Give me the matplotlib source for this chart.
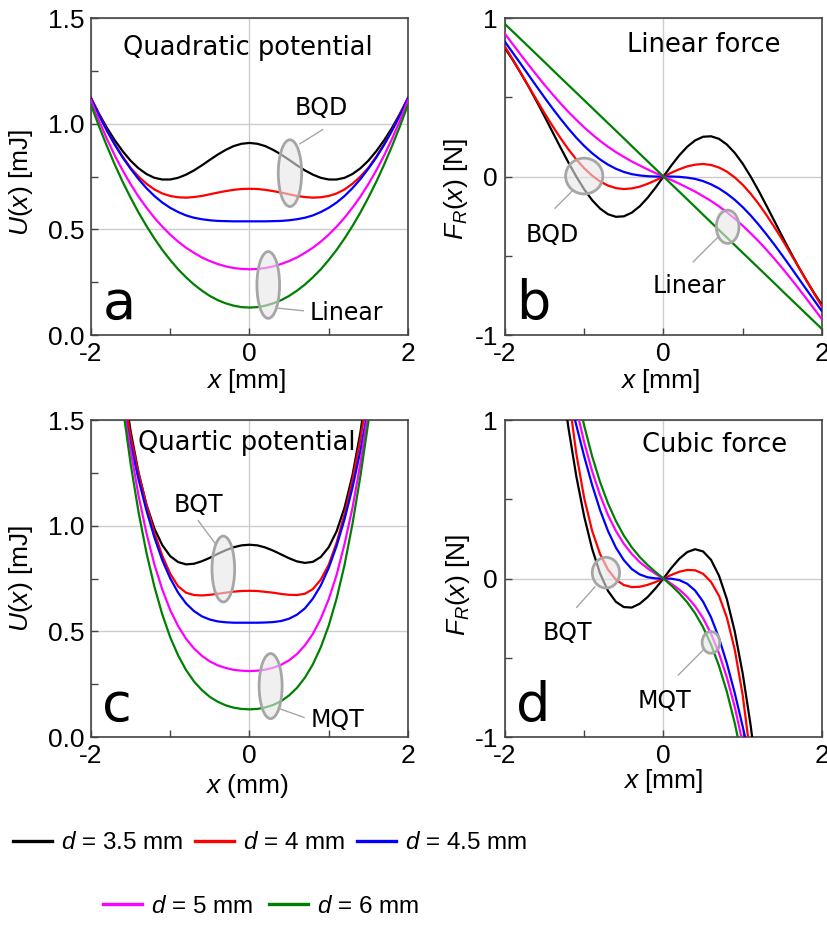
import matplotlib
matplotlib.use('Agg')
import matplotlib.pyplot as plt
from matplotlib.patches import Ellipse
from matplotlib.lines import Line2D

plt.rcParams['font.family'] = ['Liberation Sans', 'DejaVu Sans']
plt.rcParams['mathtext.fontset'] = 'custom'
plt.rcParams['mathtext.it'] = 'Liberation Sans:italic'
plt.rcParams['mathtext.rm'] = 'Liberation Sans'
plt.rcParams['axes.unicode_minus'] = False

gaps = ['3.5', '4', '4.5', '5', '6']
colors = ['black', '#ff0000', '#0000ff', '#ff00ff', '#008000']

# panels a, b: x in mm
x_ab = [-2.0, -1.9, -1.8, -1.7, -1.6, -1.5, -1.4, -1.3, -1.2, -1.1, -1.0,
        -0.9, -0.8, -0.7, -0.6, -0.5, -0.4, -0.3, -0.2, -0.1, 0.0,
        0.1, 0.2, 0.3, 0.4, 0.5, 0.6, 0.7, 0.8, 0.9, 1.0,
        1.1, 1.2, 1.3, 1.4, 1.5, 1.6, 1.7, 1.8, 1.9, 2.0]

# quadratic potential U(x) [mJ]
u_quad_35 = [1.122, 1.048, 0.981, 0.922, 0.870, 0.825, 0.789, 0.762, 0.744, 0.736, 0.736,
             0.744, 0.759, 0.779, 0.803, 0.829, 0.854, 0.876, 0.894, 0.905, 0.909,
             0.905, 0.894, 0.876, 0.854, 0.829, 0.803, 0.779, 0.759, 0.744, 0.736,
             0.736, 0.744, 0.762, 0.789, 0.825, 0.870, 0.922, 0.981, 1.048, 1.122]
u_quad_4 = [1.120, 1.044, 0.970, 0.903, 0.844, 0.791, 0.750, 0.716, 0.689, 0.670, 0.658,
            0.652, 0.650, 0.653, 0.658, 0.666, 0.674, 0.681, 0.687, 0.691, 0.692,
            0.691, 0.687, 0.681, 0.674, 0.666, 0.658, 0.653, 0.650, 0.652, 0.658,
            0.670, 0.689, 0.716, 0.750, 0.791, 0.844, 0.903, 0.970, 1.044, 1.120]
u_quad_45 = [1.118, 1.041, 0.968, 0.901, 0.840, 0.787, 0.738, 0.695, 0.658, 0.627, 0.602,
             0.582, 0.566, 0.555, 0.548, 0.543, 0.540, 0.539, 0.538, 0.538, 0.538,
             0.538, 0.538, 0.539, 0.540, 0.543, 0.548, 0.555, 0.566, 0.582, 0.602,
             0.627, 0.658, 0.695, 0.738, 0.787, 0.840, 0.901, 0.968, 1.041, 1.118]
u_quad_5 = [1.110, 1.016, 0.929, 0.850, 0.779, 0.714, 0.655, 0.603, 0.555, 0.513, 0.475,
            0.442, 0.413, 0.389, 0.367, 0.350, 0.336, 0.325, 0.317, 0.313, 0.311,
            0.313, 0.317, 0.325, 0.336, 0.350, 0.367, 0.389, 0.413, 0.442, 0.475,
            0.513, 0.555, 0.603, 0.655, 0.714, 0.779, 0.850, 0.929, 1.016, 1.110]
u_quad_6 = [1.090, 0.989, 0.895, 0.807, 0.725, 0.650, 0.580, 0.516, 0.457, 0.403, 0.355,
            0.311, 0.273, 0.239, 0.210, 0.185, 0.165, 0.150, 0.139, 0.132, 0.130,
            0.132, 0.139, 0.150, 0.165, 0.185, 0.210, 0.239, 0.273, 0.311, 0.355,
            0.403, 0.457, 0.516, 0.580, 0.650, 0.725, 0.807, 0.895, 0.989, 1.090]

# linear force F_R(x) [N]
f_lin_35 = [0.810, 0.734, 0.652, 0.566, 0.474, 0.379, 0.281, 0.184, 0.089, 0.000, -0.081,
            -0.149, -0.202, -0.238, -0.254, -0.251, -0.228, -0.188, -0.134, -0.070, 0.0,
            0.070, 0.134, 0.188, 0.228, 0.251, 0.254, 0.238, 0.202, 0.149, 0.081,
            0.000, -0.089, -0.184, -0.281, -0.379, -0.474, -0.566, -0.652, -0.734, -0.810]
f_lin_4 = [0.820, 0.737, 0.653, 0.567, 0.483, 0.399, 0.319, 0.243, 0.172, 0.108, 0.052,
           0.006, -0.031, -0.057, -0.073, -0.079, -0.075, -0.064, -0.046, -0.024, 0.0,
           0.024, 0.046, 0.064, 0.075, 0.079, 0.073, 0.057, 0.031, -0.006, -0.052,
           -0.108, -0.172, -0.243, -0.319, -0.399, -0.483, -0.567, -0.653, -0.737, -0.820]
f_lin_45 = [0.850, 0.780, 0.710, 0.639, 0.568, 0.498, 0.430, 0.365, 0.303, 0.245, 0.193,
            0.147, 0.108, 0.075, 0.049, 0.029, 0.015, 0.007, 0.002, 0.000, 0.0,
            -0.000, -0.002, -0.007, -0.015, -0.029, -0.049, -0.075, -0.108, -0.147, -0.193,
            -0.245, -0.303, -0.365, -0.430, -0.498, -0.568, -0.639, -0.710, -0.780, -0.850]
f_lin_5 = [0.900, 0.834, 0.768, 0.703, 0.640, 0.578, 0.519, 0.462, 0.408, 0.358, 0.310,
           0.266, 0.225, 0.188, 0.154, 0.124, 0.095, 0.070, 0.045, 0.022, 0.0,
           -0.022, -0.045, -0.070, -0.095, -0.124, -0.154, -0.188, -0.225, -0.266, -0.310,
           -0.358, -0.408, -0.462, -0.519, -0.578, -0.640, -0.703, -0.768, -0.834, -0.900]
f_lin_6 = [0.962, 0.914, 0.866, 0.818, 0.770, 0.722, 0.673, 0.625, 0.577, 0.529, 0.481,
           0.433, 0.385, 0.337, 0.289, 0.241, 0.192, 0.144, 0.096, 0.048, 0.0,
           -0.048, -0.096, -0.144, -0.192, -0.241, -0.289, -0.337, -0.385, -0.433, -0.481,
           -0.529, -0.577, -0.625, -0.673, -0.722, -0.770, -0.818, -0.866, -0.914, -0.962]

# panel c: quartic potential
x_c = [-1.6, -1.5, -1.4, -1.3, -1.2, -1.1, -1.0, -0.9, -0.8, -0.7, -0.6, -0.5,
       -0.4, -0.3, -0.2, -0.1, 0.0, 0.1, 0.2, 0.3, 0.4, 0.5, 0.6, 0.7, 0.8,
       0.9, 1.0, 1.1, 1.2, 1.3, 1.4, 1.5, 1.6]
u_quart_35 = [1.694, 1.448, 1.252, 1.100, 0.987, 0.908, 0.856, 0.828, 0.817, 0.820, 0.832,
              0.848, 0.867, 0.884, 0.898, 0.907, 0.910, 0.907, 0.897, 0.882, 0.864, 0.846,
              0.831, 0.824, 0.829, 0.852, 0.898, 0.974, 1.086, 1.239, 1.442, 1.698, 2.015]
u_quart_4 = [1.633, 1.423, 1.248, 1.098, 0.968, 0.858, 0.773, 0.713, 0.683, 0.672, 0.670,
             0.673, 0.678, 0.683, 0.688, 0.691, 0.692, 0.691, 0.687, 0.683, 0.677, 0.673,
             0.672, 0.678, 0.700, 0.745, 0.815, 0.920, 1.055, 1.215, 1.410, 1.640, 1.910]
u_quart_45 = [1.565, 1.386, 1.220, 1.072, 0.945, 0.837, 0.751, 0.683, 0.632, 0.596, 0.571,
              0.556, 0.547, 0.543, 0.541, 0.541, 0.541, 0.541, 0.542, 0.544, 0.549, 0.560,
              0.579, 0.609, 0.655, 0.717, 0.800, 0.905, 1.031, 1.180, 1.355, 1.560, 1.780]
u_quart_5 = [1.575, 1.358, 1.143, 0.965, 0.817, 0.698, 0.601, 0.525, 0.465, 0.419, 0.384,
             0.358, 0.339, 0.327, 0.318, 0.314, 0.312, 0.314, 0.319, 0.328, 0.342, 0.363,
             0.393, 0.434, 0.488, 0.560, 0.652, 0.768, 0.914, 1.085, 1.295, 1.540, 1.800]
u_quart_6 = [1.566, 1.294, 1.065, 0.872, 0.712, 0.580, 0.472, 0.386, 0.317, 0.263, 0.222,
             0.190, 0.167, 0.150, 0.139, 0.133, 0.131, 0.133, 0.140, 0.152, 0.170, 0.197,
             0.233, 0.281, 0.344, 0.425, 0.527, 0.656, 0.815, 1.009, 1.235, 1.490, 1.780]

# panel d: cubic force
x_d = [-1.3, -1.2, -1.1, -1.0, -0.9, -0.8, -0.7, -0.6, -0.5, -0.4, -0.3, -0.2, -0.1,
       0.0, 0.1, 0.2, 0.3, 0.4, 0.5, 0.6, 0.7, 0.8, 0.9, 1.0, 1.1, 1.2]
f_cub_35 = [1.316, 0.954, 0.646, 0.391, 0.187, 0.032, -0.078, -0.147, -0.180, -0.183, -0.159,
            -0.117, -0.062, 0.0, 0.067, 0.125, 0.167, 0.185, 0.171, 0.118, 0.019, -0.130,
            -0.335, -0.600, -0.926, -1.316]
f_cub_4 = [1.653, 1.164, 0.789, 0.507, 0.301, 0.155, 0.056, -0.007, -0.041, -0.054, -0.052,
           -0.040, -0.022, 0.0, 0.023, 0.043, 0.054, 0.052, 0.030, -0.021, -0.108, -0.246,
           -0.449, -0.736, -1.129, -1.653]
f_cub_45 = [1.380, 1.175, 0.968, 0.770, 0.590, 0.432, 0.300, 0.195, 0.116, 0.060, 0.026,
            0.008, 0.001, 0.0, -0.001, -0.010, -0.033, -0.076, -0.146, -0.244, -0.374, -0.535,
            -0.723, -0.934, -1.157, -1.380]
f_cub_5 = [1.621, 1.328, 1.075, 0.859, 0.677, 0.526, 0.401, 0.300, 0.219, 0.155, 0.104,
           0.064, 0.030, 0.0, -0.033, -0.070, -0.116, -0.175, -0.250, -0.348, -0.471, -0.624,
           -0.811, -1.037, -1.305, -1.621]
f_cub_6 = [1.757, 1.453, 1.190, 0.964, 0.771, 0.609, 0.474, 0.363, 0.271, 0.197, 0.136,
           0.085, 0.041, 0.0, -0.044, -0.093, -0.150, -0.220, -0.307, -0.416, -0.550, -0.714,
           -0.913, -1.150, -1.430, -1.757]

u_quad = [u_quad_35, u_quad_4, u_quad_45, u_quad_5, u_quad_6]
f_lin = [f_lin_35, f_lin_4, f_lin_45, f_lin_5, f_lin_6]
u_quart = [u_quart_35, u_quart_4, u_quart_45, u_quart_5, u_quart_6]
f_cub = [f_cub_35, f_cub_4, f_cub_45, f_cub_5, f_cub_6]

GRAY = '#a6a6a6'
SANS = 'DejaVu Sans'


def style_axes(ax, kind):
    ax.set_xlim(-2, 2)
    ax.set_xticks([-2, 0, 2])
    ax.set_xticks([-1, 1], minor=True)
    if kind == 'U':
        ax.set_ylim(0, 1.5)
        ax.set_yticks([0, 0.5, 1.0, 1.5])
        ax.set_yticklabels(['0.0', '0.5', '1.0', '1.5'])
        ax.set_yticks([0.25, 0.75, 1.25], minor=True)
    else:
        ax.set_ylim(-1, 1)
        ax.set_yticks([-1, 0, 1])
        ax.set_yticklabels(['-1', '0', '1'])
        ax.set_yticks([-0.5, 0.5], minor=True)
    ax.tick_params(which='both', direction='in', length=5, width=1,
                   color='#444444', labelsize=19, pad=5)
    ax.grid(True, which='major', color='#cccccc', lw=1)
    ax.set_axisbelow(True)
    for s in ax.spines.values():
        s.set_color('#444444')
        s.set_linewidth(1.2)


def mark(ax, center, size, seg, label, label_xy):
    ax.add_patch(Ellipse(center, size[0], size[1], facecolor=(0.9, 0.9, 0.9, 0.6),
                         edgecolor=GRAY, lw=2, zorder=4))
    ax.plot(seg[0], seg[1], color=GRAY, lw=1, zorder=4)
    ax.text(label_xy[0], label_xy[1], label, fontsize=17, family=SANS,
            va='baseline', zorder=5)


fig = plt.figure(figsize=(8.27, 9.25), dpi=100)
ax_a = fig.add_axes([0.1100, 0.6378, 0.3833, 0.3427])
ax_b = fig.add_axes([0.6106, 0.6378, 0.3833, 0.3427])
ax_c = fig.add_axes([0.1100, 0.2032, 0.3833, 0.3427])
ax_d = fig.add_axes([0.6106, 0.2032, 0.3833, 0.3427])

for i in range(5):
    ax_a.plot(x_ab, u_quad[i], color=colors[i], lw=1.6, zorder=3)
    ax_b.plot(x_ab, f_lin[i], color=colors[i], lw=1.6, zorder=3)
    ax_c.plot(x_c, u_quart[i], color=colors[i], lw=1.6, zorder=3)
    ax_d.plot(x_d, f_cub[i], color=colors[i], lw=1.6, zorder=3)

style_axes(ax_a, 'U')
style_axes(ax_b, 'F')
style_axes(ax_c, 'U')
style_axes(ax_d, 'F')

ax_a.set_ylabel(r'$U$($x$) [mJ]', fontsize=19)
ax_c.set_ylabel(r'$U$($x$) [mJ]', fontsize=19)
ax_b.set_ylabel(r'$F_R$($x$) [N]', fontsize=19)
ax_d.set_ylabel(r'$F_R$($x$) [N]', fontsize=19)
ax_a.set_xlabel(r'$x$ [mm]', fontsize=19)
ax_b.set_xlabel(r'$x$ [mm]', fontsize=19)
ax_c.set_xlabel(r'$x$ (mm)', fontsize=19)
ax_d.set_xlabel(r'$x$ [mm]', fontsize=19)
ax_a.yaxis.set_label_coords(-0.177, 0.48)
ax_c.yaxis.set_label_coords(-0.177, 0.50)
ax_b.yaxis.set_label_coords(-0.110, 0.46)
ax_d.yaxis.set_label_coords(-0.105, 0.48)
ax_a.xaxis.set_label_coords(0.49, -0.10)
ax_b.xaxis.set_label_coords(0.49, -0.10)
ax_c.xaxis.set_label_coords(0.49, -0.11)
ax_d.xaxis.set_label_coords(0.50, -0.095)

# panel titles and letters
for ax, title, pos, letter in [(ax_a, 'Quadratic potential', (0.101, 0.883), 'a'),
                               (ax_b, 'Linear force', (0.384, 0.894), 'b'),
                               (ax_c, 'Quartic potential', (0.147, 0.905), 'c'),
                               (ax_d, 'Cubic force', (0.433, 0.900), 'd')]:
    ax.text(pos[0], pos[1], title, transform=ax.transAxes, fontsize=18.5,
            family=SANS, va='baseline', zorder=5)
    ax.text(0.036, 0.052, letter, transform=ax.transAxes, fontsize=39,
            family=SANS, va='baseline', zorder=5)

mark(ax_a, (0.511, 0.766), (0.295, 0.316), ([0.637, 0.924], [0.905, 0.972]), 'BQD', (0.574, 1.043))
mark(ax_a, (0.237, 0.237), (0.286, 0.316), ([0.363, 0.679], [0.127, 0.115]), 'Linear', (0.763, 0.071))
mark(ax_b, (-1.0, 0.003), (0.47, 0.226), ([-1.138, -1.369], [-0.085, -0.2]), 'BQD', (-1.735, -0.411))
mark(ax_b, (0.81, -0.317), (0.286, 0.21), ([0.692, 0.376], [-0.38, -0.538]), 'Linear', (-0.141, -0.737))
mark(ax_c, (-0.330, 0.795), (0.286, 0.312), ([-0.435, -0.646], [0.917, 1.024]), 'BQT', (-0.961, 1.066))
mark(ax_c, (0.267, 0.241), (0.29, 0.308), ([0.364, 0.688], [0.136, 0.093]), 'MQT', (0.772, 0.049))
mark(ax_d, (-0.726, 0.037), (0.345, 0.194), ([-0.864, -1.095], [-0.052, -0.182]), 'BQT', (-1.529, -0.388))
mark(ax_d, (0.599, -0.403), (0.223, 0.137), ([0.502, 0.187], [-0.451, -0.609]), 'MQT', (-0.326, -0.819))

# legend in two rows
handles = [Line2D([], [], color=c, lw=2.4) for c in colors]
labels = [r'$d$ = ' + g + ' mm' for g in gaps]
leg_font = {'family': 'Liberation Sans', 'size': 17.5}
fig.legend(handles[:3], labels[:3], ncol=3, loc='center', bbox_to_anchor=(0.3265, 0.0886),
           frameon=False, prop=leg_font, handlelength=1.6, handletextpad=0.37,
           columnspacing=0.5)
fig.legend(handles[3:], labels[3:], ncol=2, loc='center', bbox_to_anchor=(0.3156, 0.0195),
           frameon=False, prop=leg_font, handlelength=1.6, handletextpad=0.37,
           columnspacing=0.66)

fig.savefig('out.png', dpi=100)
